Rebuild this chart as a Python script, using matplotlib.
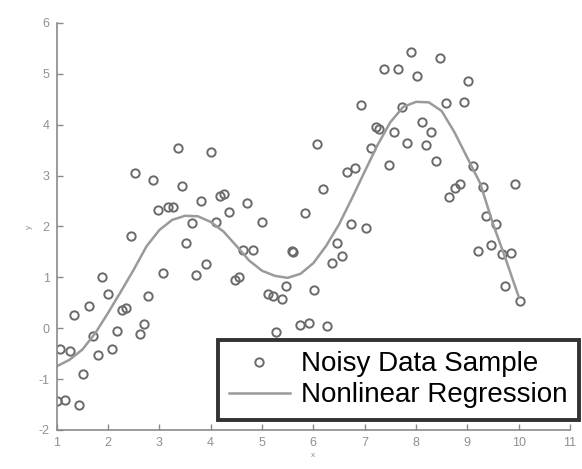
import matplotlib
matplotlib.use("Agg")
import matplotlib.pyplot as plt

plt.rcParams['font.family'] = ['Liberation Sans', 'DejaVu Sans']
plt.rcParams['axes.unicode_minus'] = False

# Noisy data sample
x_points = [1.00, 1.16, 1.43, 1.52, 1.06, 1.25, 1.34, 1.62, 1.88, 1.99,
            1.70, 1.81, 2.07, 2.17, 2.27, 2.36, 2.45, 2.62, 2.71, 2.78,
            2.52, 2.88, 2.98, 3.17, 3.26, 3.08, 3.36, 3.45, 3.52, 3.63,
            3.71, 3.81, 3.91, 4.00, 4.10, 4.18, 4.26, 4.36, 4.47, 4.55,
            4.63, 4.82, 4.70, 5.00, 5.12, 5.22, 5.38, 5.27, 5.47, 5.60,
            5.58, 5.74, 5.92, 6.01, 5.84, 6.07, 6.18, 6.27, 6.36, 6.46,
            6.55, 6.65, 6.82, 6.73, 7.02, 6.92, 7.12, 7.23, 7.28, 7.37,
            7.65, 7.47, 7.57, 7.72, 7.82, 7.91, 8.01, 8.11, 8.19, 8.30,
            8.39, 8.46, 8.58, 8.65, 8.76, 8.85, 8.93, 9.02, 9.11, 9.21,
            9.31, 9.37, 9.47, 9.55, 9.67, 9.86, 9.74, 9.93, 10.02]
y_points = [-1.44, -1.42, -1.50, -0.89, -0.41, -0.45, 0.26, 0.43, 1.00, 0.68,
            -0.15, -0.52, -0.41, -0.06, 0.35, 0.39, 1.81, -0.11, 0.08, 0.64,
            3.05, 2.91, 2.33, 2.38, 2.39, 1.08, 3.55, 2.80, 1.67, 2.06,
            1.05, 2.50, 1.26, 3.47, 2.08, 2.59, 2.63, 2.28, 0.95, 1.00,
            1.53, 1.53, 2.46, 2.08, 0.68, 0.64, 0.57, -0.08, 0.83, 1.50,
            1.52, 0.06, 0.11, 0.75, 2.27, 3.62, 2.73, 0.05, 1.29, 1.68,
            1.42, 3.08, 3.15, 2.05, 1.97, 4.39, 3.54, 3.95, 3.91, 5.09,
            5.09, 3.21, 3.85, 4.34, 3.65, 5.42, 4.95, 4.06, 3.60, 3.85,
            3.29, 5.31, 4.42, 2.58, 2.75, 2.84, 4.45, 4.85, 3.19, 1.52,
            2.78, 2.21, 1.64, 2.05, 1.46, 1.48, 0.83, 2.83, 0.54]

# Nonlinear regression curve
curve_x = [1.0, 1.25, 1.5, 1.75, 2.0, 2.25, 2.5, 2.75, 3.0, 3.25, 3.5, 3.75,
           4.0, 4.25, 4.5, 4.75, 5.0, 5.25, 5.5, 5.75, 6.0, 6.25, 6.5, 6.75,
           7.0, 7.25, 7.5, 7.75, 8.0, 8.25, 8.5, 8.75, 9.0, 9.25, 9.5, 9.75, 10.0]
curve_y = [-0.75, -0.62, -0.42, -0.10, 0.30, 0.72, 1.15, 1.61, 1.93, 2.13, 2.21, 2.20,
           2.09, 1.90, 1.62, 1.33, 1.13, 1.03, 0.99, 1.07, 1.28, 1.62, 2.04, 2.55,
           3.08, 3.60, 4.05, 4.35, 4.45, 4.44, 4.27, 3.85, 3.35, 2.85, 2.05, 1.35, 0.62]

x_ticks = [1, 2, 3, 4, 5, 6, 7, 8, 9, 10, 11]
y_ticks = [-2, -1, 0, 1, 2, 3, 4, 5, 6]
legend_labels = ['Noisy Data Sample', 'Nonlinear Regression']

fig = plt.figure(figsize=(5.82, 4.69), dpi=100)
ax = fig.add_axes([0.0974, 0.0832, 0.882, 0.8678])

pts, = ax.plot(x_points, y_points, linestyle='none', marker='o', markersize=6,
               markerfacecolor='none', markeredgecolor='#6a6a6a', markeredgewidth=1.4,
               label=legend_labels[0])
crv, = ax.plot(curve_x, curve_y, color='#9a9a9a', linewidth=1.8, label=legend_labels[1])

ax.set_xlim(1, 11)
ax.set_ylim(-2, 6)
ax.set_xticks(x_ticks)
ax.set_yticks(y_ticks)
for s in ['top', 'right']:
    ax.spines[s].set_visible(False)
for s in ['left', 'bottom']:
    ax.spines[s].set_color('#8a8a8a')
    ax.spines[s].set_linewidth(1.2)
ax.tick_params(direction='in', length=4, width=1, color='#8a8a8a',
               labelcolor='#909090', labelsize=9, pad=5)
ax.set_xlabel('x', fontsize=6, color='#909090', labelpad=2)
ax.set_ylabel('y', fontsize=6, color='#909090', labelpad=4)

leg = fig.legend(handles=[pts, crv], labels=legend_labels, loc='center',
                 bbox_to_anchor=(0.684, 0.19), fontsize=20, frameon=True,
                 fancybox=False, edgecolor='black', borderpad=0.4,
                 labelspacing=0.18, handlelength=2.2, handletextpad=0.4,
                 borderaxespad=0)
leg.get_frame().set_linewidth(2.8)

fig.savefig('out.png', dpi=100)
